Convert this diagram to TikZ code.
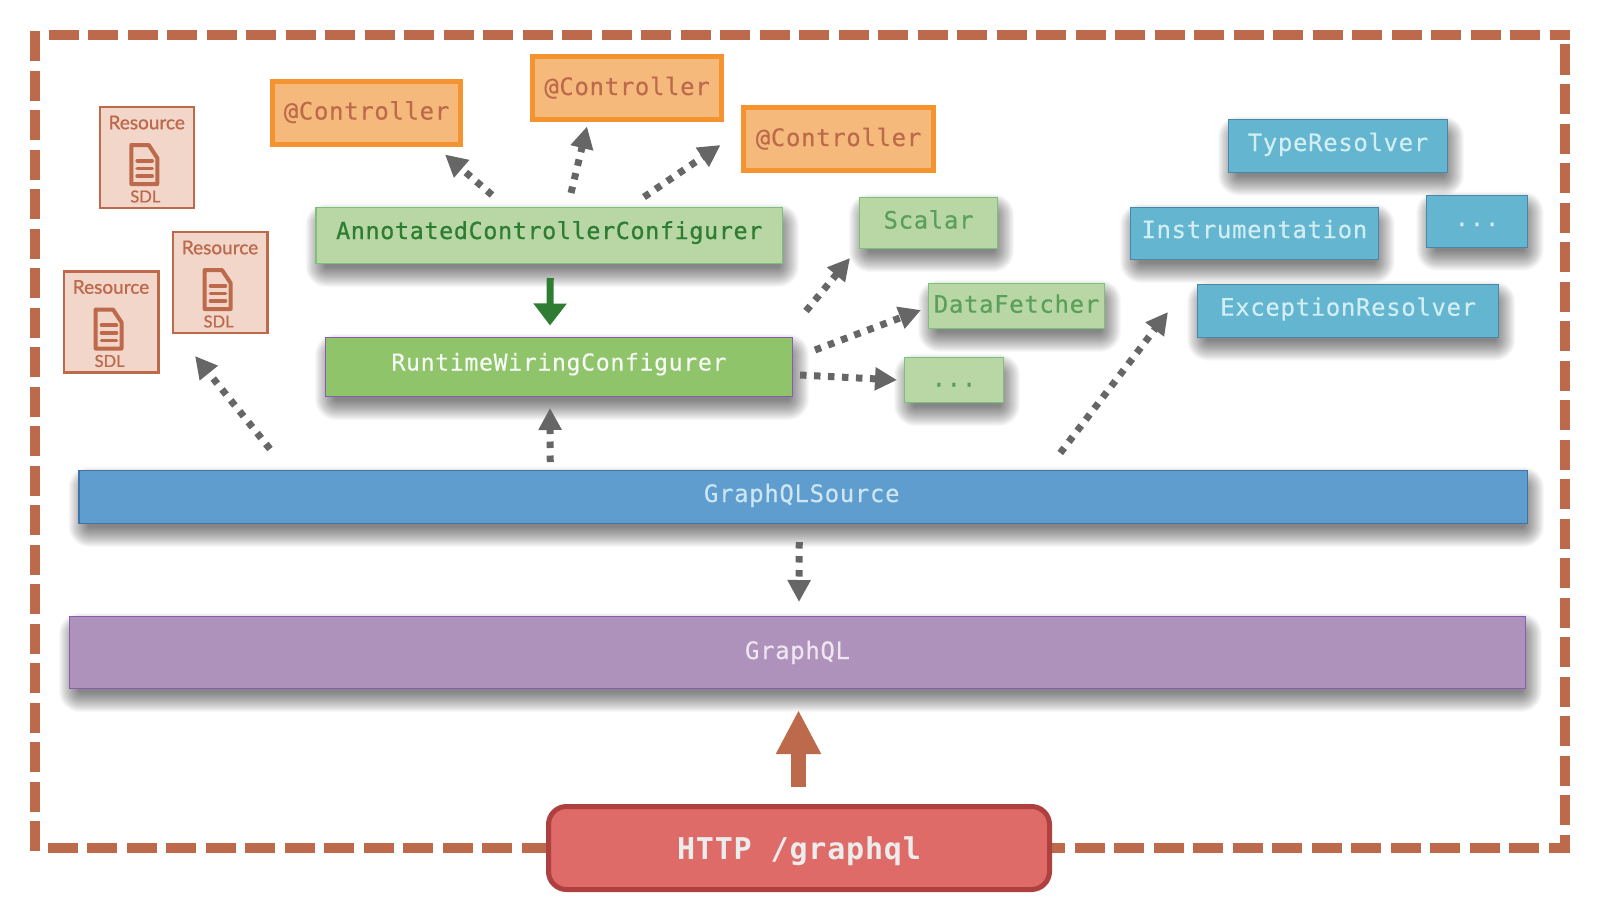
\documentclass[tikz,border=0pt]{standalone}
\usepackage{fontspec}
\usetikzlibrary{arrows.meta}
\setmainfont[FakeBold=1]{Lato}
\setmonofont[LetterSpace=2.7,FakeBold=0.3]{DejaVu Sans Mono}
\newfontfamily\medmono[LetterSpace=2.7,FakeBold=0.8]{DejaVu Sans Mono}
\newfontfamily\httpmono[LetterSpace=2.7]{DejaVu Sans Mono}
\definecolor{brn}{HTML}{BC6A4B}
\definecolor{resfill}{HTML}{F2D6CA}
\definecolor{orgline}{HTML}{F59331}
\definecolor{orgfill}{HTML}{F5B97B}
\definecolor{grnfill}{HTML}{B8D7A5}
\definecolor{grnline}{HTML}{7DBF7D}
\definecolor{grntxt}{HTML}{5A9F5A}
\definecolor{dkgrn}{HTML}{2E7D32}
\definecolor{rwfill}{HTML}{8FC46B}
\definecolor{purp}{HTML}{8A5CB0}
\definecolor{srcfill}{HTML}{5F9DCE}
\definecolor{srcline}{HTML}{3F72A8}
\definecolor{srctxt}{HTML}{CDE6F5}
\definecolor{gqlfill}{HTML}{AE92BB}
\definecolor{gqltxt}{HTML}{EFE6F2}
\definecolor{tealfill}{HTML}{64B5CF}
\definecolor{tealline}{HTML}{4A86A8}
\definecolor{tealtxt}{HTML}{D2EEF5}
\definecolor{httpfill}{HTML}{DE6B67}
\definecolor{httpline}{HTML}{AE403F}
\definecolor{httptxt}{HTML}{ECECEC}
\definecolor{arrgray}{HTML}{666666}
\tikzset{
  base/.style={inner sep=0pt,outer sep=0pt,text height=0pt,text depth=0pt,align=center,line width=1.2pt,draw},
  ctrlbox/.style={base,draw=orgline,fill=orgfill,line width=4.6pt,text=brn,font=\fontsize{24}{30}\selectfont\ttfamily},
  acfgbox/.style={base,draw=grnline,fill=grnfill,text=dkgrn,font=\fontsize{23.4}{30}\selectfont\medmono},
  grnbox/.style={base,draw=grnline,fill=grnfill,text=grntxt,font=\fontsize{24}{30}\selectfont\ttfamily},
  rwbox/.style={base,draw=purp,fill=rwfill,text=white!93!rwfill,font=\fontsize{23.2}{30}\selectfont\ttfamily},
  srcbox/.style={base,draw=srcline,fill=srcfill,text=srctxt,font=\fontsize{24}{30}\selectfont\ttfamily},
  gqlbox/.style={base,draw=purp,fill=gqlfill,text=gqltxt,font=\fontsize{24}{30}\selectfont\ttfamily},
  tealbox/.style={base,draw=tealline,fill=tealfill,text=tealtxt,font=\fontsize{24}{30}\selectfont\ttfamily},
  httpbox/.style={base,draw=httpline,fill=httpfill,line width=5pt,rounded corners=18pt,text=httptxt,font=\fontsize{30}{36}\selectfont\httpmono\bfseries},
  resbox/.style={base,draw=brn,fill=resfill,line width=2.4pt},
  reslabel/.style={inner sep=0pt,text=brn,font=\fontsize{19}{22}\selectfont},
  sdllabel/.style={inner sep=0pt,text=brn,font=\fontsize{16.5}{20}\selectfont},
  dotarrow/.style={draw=arrgray,line width=7pt,dash pattern=on 6.5pt off 7.5pt,-{Triangle[length=22pt,width=22pt,fill=arrgray]}},
  frameline/.style={draw=brn,line width=10pt},
  framedash/.style={frameline,dash pattern=on 30pt off 9.5pt},
}
\newcommand{\softshadow}[4]{%
  \foreach \e in {13,12,...,-7}{%
    \pgfmathsetmacro{\rr}{max(\e+8,1)}%
    \fill[black,fill opacity=.028,rounded corners=\rr pt]
      ({#1+3-\e},{#2+10-\e}) rectangle ({#3+3+\e},{#4+10+\e});
  }%
}
% style, name, x1, y1, x2, y2, baseline offset, text
\newcommand{\boxnode}[8]{%
  \pgfmathsetmacro{\bw}{#5-#3}\pgfmathsetmacro{\bh}{#6-#4}%
  \node[#1,minimum width=\bw pt,minimum height=\bh pt] (#2) at ({(#3+#5)/2},{(#4+#6)/2}) {\raisebox{-#7pt}{#8}};%
}
\newcommand{\resource}[3]{%
  \pgfmathsetmacro{\xe}{#2+94.5}\pgfmathsetmacro{\ye}{#3+101}%
  \boxnode{resbox}{#1}{#2}{#3}{\xe}{\ye}{0}{}%
  \node[reslabel] (#1t) at ([shift={(47,15.5)}]#1.north west) {Resource};
  \node[sdllabel] (#1s) at ([shift={(45.6,89.5)}]#1.north west) {SDL};
  \begin{scope}[shift={(#2,#3)},draw=brn,line join=round]
    \draw[line width=4pt] (31.6,38) -- (49,38) -- (57.6,51) -- (57.6,77) -- (31.6,77) -- cycle;
    \draw[line width=3.6pt,line cap=round] (37.5,53.7) -- (52.5,53.7) (37.5,61.5) -- (52.5,61.5) (37.5,69) -- (52.5,69);
  \end{scope}
}
\begin{document}
\begin{tikzpicture}[x=1pt,y=-1pt]
\useasboundingbox (0,0) rectangle (1600,907);
\fill[white] (0,0) rectangle (1600,907);
% dashed frame
\draw[framedash] (48.7,35) -- (1570,35);
\draw[framedash] (1565,825) -- (1565,44);
\draw[framedash] (35,31) -- (35,851);
\draw[framedash] (1539,848) -- (47,848);
\draw[frameline,line join=miter] (1549,848) -- (1565,848) -- (1565,835);
% shadows
\softshadow{315.5}{207}{783}{264}
\softshadow{325}{337}{793}{397}
\softshadow{859}{197}{998}{249}
\softshadow{928}{283}{1105}{329}
\softshadow{904}{357}{1004}{403}
\softshadow{1228}{119.3}{1448}{172.7}
\softshadow{1130}{206.7}{1378.7}{260}
\softshadow{1426.3}{194.7}{1527.7}{247.7}
\softshadow{1197}{284.3}{1499.3}{337.7}
\softshadow{78.5}{470}{1528}{524}
\softshadow{69}{616}{1526}{689}
% resources
\resource{res1}{99.7}{107}
\resource{res2}{173}{232}
\resource{res3}{64}{271.5}
% controllers
\boxnode{ctrlbox}{ctrl1}{272.5}{81.5}{460.5}{144.5}{6.5}{@Controller}
\boxnode{ctrlbox}{ctrl2}{532.5}{56.5}{721.5}{119.5}{7}{@Controller}
\boxnode{ctrlbox}{ctrl3}{743.5}{107.5}{933.5}{170.5}{7}{@Controller}
% green
\boxnode{acfgbox}{annot}{316}{207.5}{782.5}{263.5}{3.5}{AnnotatedControllerConfigurer}
\boxnode{rwbox}{runtime}{325.5}{337.5}{792.5}{396.5}{3.5}{RuntimeWiringConfigurer}
\boxnode{grnbox}{scalar}{859.5}{197.5}{997.5}{248.5}{5.6}{Scalar}
\boxnode{grnbox}{fetcher}{928.5}{283.5}{1104.5}{328.5}{6.7}{DataFetcher}
\boxnode{grnbox}{gdots}{904.5}{357.5}{1003.5}{402.5}{6.5}{...}
% teal
\boxnode{tealbox}{typeres}{1228.5}{119.8}{1447.5}{172.2}{5}{TypeResolver}
\boxnode{tealbox}{instr}{1130.5}{207.2}{1378.2}{259.5}{4.7}{Instrumentation}
\boxnode{tealbox}{tdots}{1426.8}{195.2}{1527.2}{247.2}{5}{...}
\boxnode{tealbox}{excres}{1197.5}{284.8}{1498.8}{337.2}{4.7}{ExceptionResolver}
% bars
\boxnode{srcbox}{source}{79}{470.5}{1527.5}{523.5}{5}{\hspace*{-3pt}GraphQLSource}
\boxnode{gqlbox}{gql}{69.5}{616.5}{1525.5}{688.5}{6.5}{GraphQL}
\boxnode{httpbox}{http}{548.5}{806.5}{1049.5}{889.5}{11}{HTTP /graphql}
% connectors
\draw[dotarrow] ([shift={(176,-12.5)}]annot.north west) -- ([shift={(78.5,10)}]ctrl1.south);
\draw[dotarrow] ([shift={(255,-14.5)}]annot.north west) -- ([shift={(-40,7)}]ctrl2.south);
\draw[dotarrow] ([shift={(328,-10.5)}]annot.north west) -- ([shift={(-23,6)}]ctrl3.west);
\draw[dotarrow] ([shift={(13.5,-26.5)}]runtime.north east) -- ([shift={(-9.5,35)}]scalar.west);
\draw[dotarrow] ([shift={(22.5,-17)}]runtime.east) -- ([shift={(-7.5,4)}]fetcher.west);
\draw[dotarrow] ([shift={(7.5,8)}]runtime.east) -- ([shift={(-7.5,0)}]gdots.west);
\draw[dotarrow] ([shift={(257,-17.5)}]source.north) -- ([shift={(-29.5,1)}]excres.west);
\draw[dotarrow] ([shift={(191,-21.5)}]source.north west) -- ([shift={(-25.2,23)}]res2.south);
\draw[dotarrow] ([shift={(-253,-8.5)}]source.north) -- ([shift={(-9,11.5)}]runtime.south);
\draw[dotarrow] ([shift={(-4,18.5)}]source.south) -- ([shift={(1.5,-14.5)}]gql.north);
\draw[draw=dkgrn,line width=7pt,-{Triangle[length=22pt,width=32pt,fill=dkgrn]}] ([shift={(1,14.5)}]annot.south) -- ([shift={(-9,-12)}]runtime.north);
\draw[draw=brn,line width=14.6pt,-{Triangle[length=44pt,width=42pt,fill=brn]}] ([shift={(-0.5,-19.5)}]http.north) -- ([shift={(1,21.5)}]gql.south);
\end{tikzpicture}
\end{document}
